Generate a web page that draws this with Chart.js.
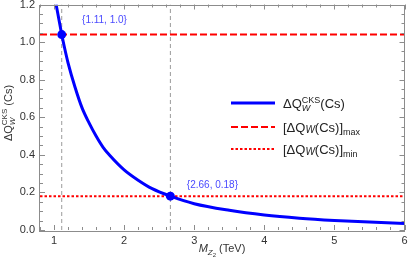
<!DOCTYPE html>
<html>
<head>
<meta charset="utf-8">
<script src="https://cdn.jsdelivr.net/npm/chart.js@4"></script>
<style>
html,body{margin:0;padding:0;background:#fff;}
#wrap{width:409px;height:265px;}
</style>
</head>
<body>
<div id="wrap"><canvas id="c" width="409" height="265"></canvas></div>
<script>
// ---- data ----
const massTeV = [1.03, 1.05, 1.08, 1.11, 1.15, 1.2, 1.3, 1.4, 1.5, 1.6, 1.7, 1.8, 2.0, 2.2, 2.4, 2.66, 3.0, 3.5, 4.0, 4.5, 5.0, 5.5, 6.0];
const deltaQ = [1.2, 1.16, 1.10, 1.04, 0.97, 0.89, 0.76, 0.65, 0.57, 0.50, 0.44, 0.395, 0.32, 0.265, 0.22, 0.18, 0.14, 0.105, 0.08, 0.063, 0.051, 0.042, 0.035];
const qMax = 1.04;
const qMin = 0.18;
const markX = [1.11, 2.66];
const markY = [1.04, 0.18];
const markLabels = ["{1.11, 1.0}", "{2.66, 0.18}"];
const markLabelPos = [[1.72, 1.115], [3.26, 0.24]];
const xRange = [0.8, 6];
const yRange = [0, 1.2];
const xTicks = [1, 2, 3, 4, 5, 6];
const yTicks = [0, 0.2, 0.4, 0.6, 0.8, 1.0, 1.2];
const xMinor = [];
for (let i = 0; i <= 26; i++) xMinor.push(+(0.8 + i * 0.2).toFixed(2));
const yMinor = [];
for (let i = 0; i <= 24; i++) yMinor.push(+(i * 0.05).toFixed(2));

const FONT = '"Liberation Sans", Arial, sans-serif';

function drawParts(ctx, x, y, parts, measureOnly) {
  let cx = x;
  for (const p of parts) {
    const size = p.size || 12;
    ctx.font = (p.italic ? 'italic ' : '') + size + 'px ' + FONT;
    if (p.stack) {
      ctx.font = p.stack[0].size + 'px ' + FONT;
      const w1 = ctx.measureText(p.stack[0].t).width;
      if (!measureOnly) ctx.fillText(p.stack[0].t, cx, y + p.stack[0].dy);
      ctx.font = (p.stack[1].italic ? 'italic ' : '') + p.stack[1].size + 'px ' + FONT;
      const w2 = ctx.measureText(p.stack[1].t).width;
      if (!measureOnly) ctx.fillText(p.stack[1].t, cx, y + p.stack[1].dy);
      cx += Math.max(w1, w2);
    } else {
      const w = ctx.measureText(p.t).width;
      if (!measureOnly) ctx.fillText(p.t, cx, y + (p.dy || 0));
      cx += w;
    }
  }
  return cx - x;
}

const decor = {
  id: 'decor',
  afterDraw(chart) {
    const ctx = chart.ctx;
    const xs = chart.scales.x, ys = chart.scales.y;
    const a = chart.chartArea;
    ctx.save();
    // frame
    ctx.strokeStyle = '#8c8c8c';
    ctx.lineWidth = 1;
    ctx.strokeRect(Math.round(a.left) - 0.5, Math.round(a.top) + 0.5, Math.round(a.right - a.left), Math.round(a.bottom - a.top));
    // ticks
    ctx.beginPath();
    for (const v of xMinor) {
      const px = Math.round(xs.getPixelForValue(v)) + 0.5;
      const major = xTicks.includes(v);
      const L = major ? 5 : 3;
      ctx.moveTo(px, a.bottom); ctx.lineTo(px, a.bottom - L);
      ctx.moveTo(px, a.top); ctx.lineTo(px, a.top + L);
    }
    for (const v of yMinor) {
      const py = Math.round(ys.getPixelForValue(v)) + 0.5;
      const major = yTicks.some(t => Math.abs(t - v) < 1e-6);
      const L = major ? 5 : 3;
      ctx.moveTo(a.left, py); ctx.lineTo(a.left + L, py);
      ctx.moveTo(a.right, py); ctx.lineTo(a.right - L, py);
    }
    ctx.stroke();

    // annotation labels
    ctx.fillStyle = '#4a4aff';
    ctx.font = '10px ' + FONT;
    ctx.textAlign = 'center';
    ctx.textBaseline = 'middle';
    for (let i = 0; i < markLabels.length; i++) {
      ctx.fillText(markLabels[i], xs.getPixelForValue(markLabelPos[i][0]), ys.getPixelForValue(markLabelPos[i][1]));
    }

    // legend
    ctx.textAlign = 'left';
    ctx.textBaseline = 'alphabetic';
    ctx.fillStyle = '#222';
    const lx0 = 231, lx1 = 275, tx = 283;
    const rows = [103, 127, 149];
    ctx.lineWidth = 3; ctx.strokeStyle = '#0000ff'; ctx.setLineDash([]);
    ctx.beginPath(); ctx.moveTo(lx0, rows[0]); ctx.lineTo(lx1, rows[0]); ctx.stroke();
    ctx.lineWidth = 2; ctx.strokeStyle = '#ff0000'; ctx.setLineDash([7, 3]);
    ctx.beginPath(); ctx.moveTo(lx0, rows[1]); ctx.lineTo(lx1, rows[1]); ctx.stroke();
    ctx.setLineDash([2.5, 2]);
    ctx.beginPath(); ctx.moveTo(lx0, rows[2]); ctx.lineTo(lx1, rows[2]); ctx.stroke();
    ctx.setLineDash([]);
    drawParts(ctx, tx, rows[0] + 4.5, [
      {t: 'ΔQ', size: 13},
      {stack: [{t: 'CKS', size: 9, dy: -5}, {t: 'W', size: 9, dy: 3, italic: true}]},
      {t: '(Cs)', size: 13}
    ]);
    drawParts(ctx, tx, rows[1] + 4.5, [
      {t: '[ΔQ', size: 13},
      {t: 'W', size: 10, dy: 1.5, italic: true},
      {t: '(Cs)]', size: 13},
      {t: 'max', size: 9, dy: 3}
    ]);
    drawParts(ctx, tx, rows[2] + 4.5, [
      {t: '[ΔQ', size: 13},
      {t: 'W', size: 10, dy: 1.5, italic: true},
      {t: '(Cs)]', size: 13},
      {t: 'min', size: 9, dy: 3}
    ]);

    // x title
    ctx.fillStyle = '#333';
    const xParts = [
      {t: 'M', size: 11, italic: true},
      {t: 'Z', size: 8, dy: 3, italic: true},
      {t: '2', size: 6, dy: 5},
      {t: ' (TeV)', size: 11}
    ];
    const wx = drawParts(ctx, 0, 0, xParts, true);
    drawParts(ctx, 222 - wx / 2, 252, xParts);

    // y title
    const yParts = [
      {t: 'ΔQ', size: 11},
      {stack: [{t: 'CKS', size: 8, dy: -5}, {t: 'W', size: 8, dy: 3, italic: true}]},
      {t: ' (Cs)', size: 11}
    ];
    const wy = drawParts(ctx, 0, 0, yParts, true);
    ctx.translate(12, 113);
    ctx.rotate(-Math.PI / 2);
    drawParts(ctx, -wy / 2, 0, yParts);
    ctx.restore();
  }
};

const curve = massTeV.map((m, i) => ({x: m, y: deltaQ[i]}));

new Chart(document.getElementById('c'), {
  type: 'scatter',
  data: {
    datasets: [
      {data: [{x: markX[0], y: yRange[0]}, {x: markX[0], y: yRange[1]}], showLine: true, borderColor: '#9a9a9a', borderWidth: 1, borderDash: [4, 3], pointRadius: 0, order: 5},
      {data: [{x: markX[1], y: yRange[0]}, {x: markX[1], y: yRange[1]}], showLine: true, borderColor: '#9a9a9a', borderWidth: 1, borderDash: [4, 3], pointRadius: 0, order: 5},
      {data: [{x: xRange[0], y: qMax}, {x: xRange[1], y: qMax}], showLine: true, borderColor: '#ff0000', borderWidth: 2, borderDash: [7, 3], pointRadius: 0, order: 4},
      {data: [{x: xRange[0], y: qMin}, {x: xRange[1], y: qMin}], showLine: true, borderColor: '#ff0000', borderWidth: 2, borderDash: [2.5, 2], pointRadius: 0, order: 4},
      {data: curve, showLine: true, borderColor: '#0000ff', borderWidth: 3, pointRadius: 0, cubicInterpolationMode: 'monotone', order: 3},
      {data: markX.map((m, i) => ({x: m, y: markY[i]})), showLine: false, pointRadius: 4.5, backgroundColor: '#0000ff', borderColor: '#0000ff', borderWidth: 0, order: 1}
    ]
  },
  options: {
    responsive: false,
    animation: false,
    layout: {padding: {top: 4, right: 2, left: 0, bottom: 0}},
    plugins: {legend: {display: false}, tooltip: {enabled: false}},
    scales: {
      x: {
        type: 'linear', min: xRange[0], max: xRange[1],
        afterBuildTicks: s => { s.ticks = xTicks.map(v => ({value: v})); },
        afterFit: s => { s.height = 35; s.paddingLeft = 0; s.paddingRight = 0; },
        grid: {display: false, drawTicks: false},
        border: {display: false},
        ticks: {autoSkip: false, maxRotation: 0, padding: 4, color: '#333', font: {size: 11, family: FONT}, callback: v => String(v)}
      },
      y: {
        type: 'linear', min: yRange[0], max: yRange[1],
        afterBuildTicks: s => { s.ticks = yTicks.map(v => ({value: v})); },
        afterFit: s => { s.width = 40; s.paddingTop = 0; s.paddingBottom = 0; },
        grid: {display: false, drawTicks: false},
        border: {display: false},
        ticks: {autoSkip: false, padding: 5, color: '#333', font: {size: 11, family: FONT}, callback: v => Number(v).toFixed(1)}
      }
    }
  },
  plugins: [decor]
});
</script>
</body>
</html>
